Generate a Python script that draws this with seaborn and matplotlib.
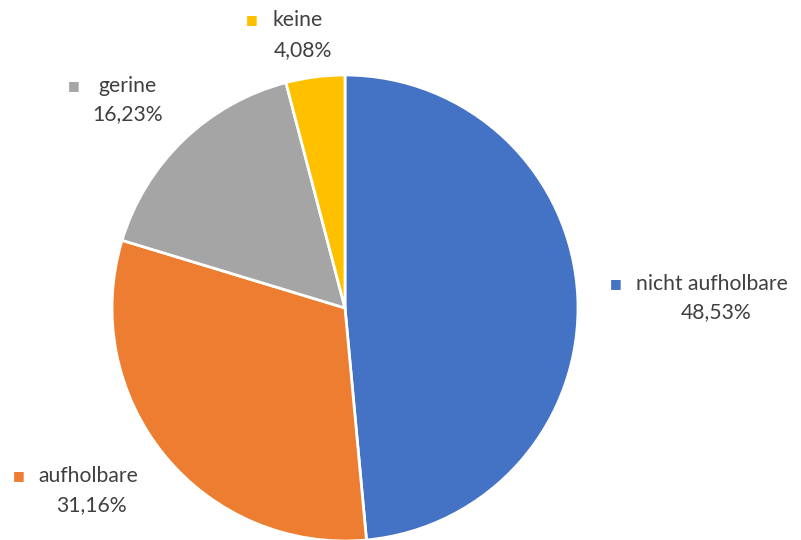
import matplotlib.pyplot as plt
import seaborn as sns

sns.set_theme(style="white")
plt.rcParams["font.family"] = ["Lato", "DejaVu Sans"]

categories = ["nicht aufholbare", "aufholbare", "gerine", "keine"]
shares = [48.53, 31.16, 16.23, 4.08]
colors = ["#4472C4", "#ED7D31", "#A5A5A5", "#FFC000"]

# label layout in pixels (marker x, name x, line-1 y, percent x, line-2 y)
label_pos = {
    "nicht aufholbare": (616, 636, 284, 716, 312),
    "aufholbare": (19, 38, 476, 91, 505),
    "gerine": (74, 98, 86, 128, 114),
    "keine": (252, 272, 20, 303, 50),
}

W, H = 801, 540
fig = plt.figure(figsize=(W / 100, H / 100), dpi=100)
ax = fig.add_axes([0, 0, 1, 1])

ax.pie(
    shares,
    colors=colors,
    startangle=90,
    counterclock=False,
    center=(345, H - 308),
    radius=233,
    wedgeprops={"edgecolor": "white", "linewidth": 2},
)
ax.set_xlim(0, W)
ax.set_ylim(0, H)
ax.set_aspect("equal")
ax.axis("off")

text_color = "#404040"
for cat, val, col in zip(categories, shares, colors):
    mx, nx, y1, px, y2 = label_pos[cat]
    ax.text(mx, H - y1, "■", color=col, fontsize=9, ha="center", va="center",
            family=["DejaVu Sans"])
    ax.text(nx, H - y1, cat, color=text_color, fontsize=15.2, ha="left", va="center")
    pct = f"{val:.2f}%".replace(".", ",")
    ax.text(px, H - y2, pct, color=text_color, fontsize=15.2, ha="center", va="center")

fig.savefig("out.png", dpi=100)
